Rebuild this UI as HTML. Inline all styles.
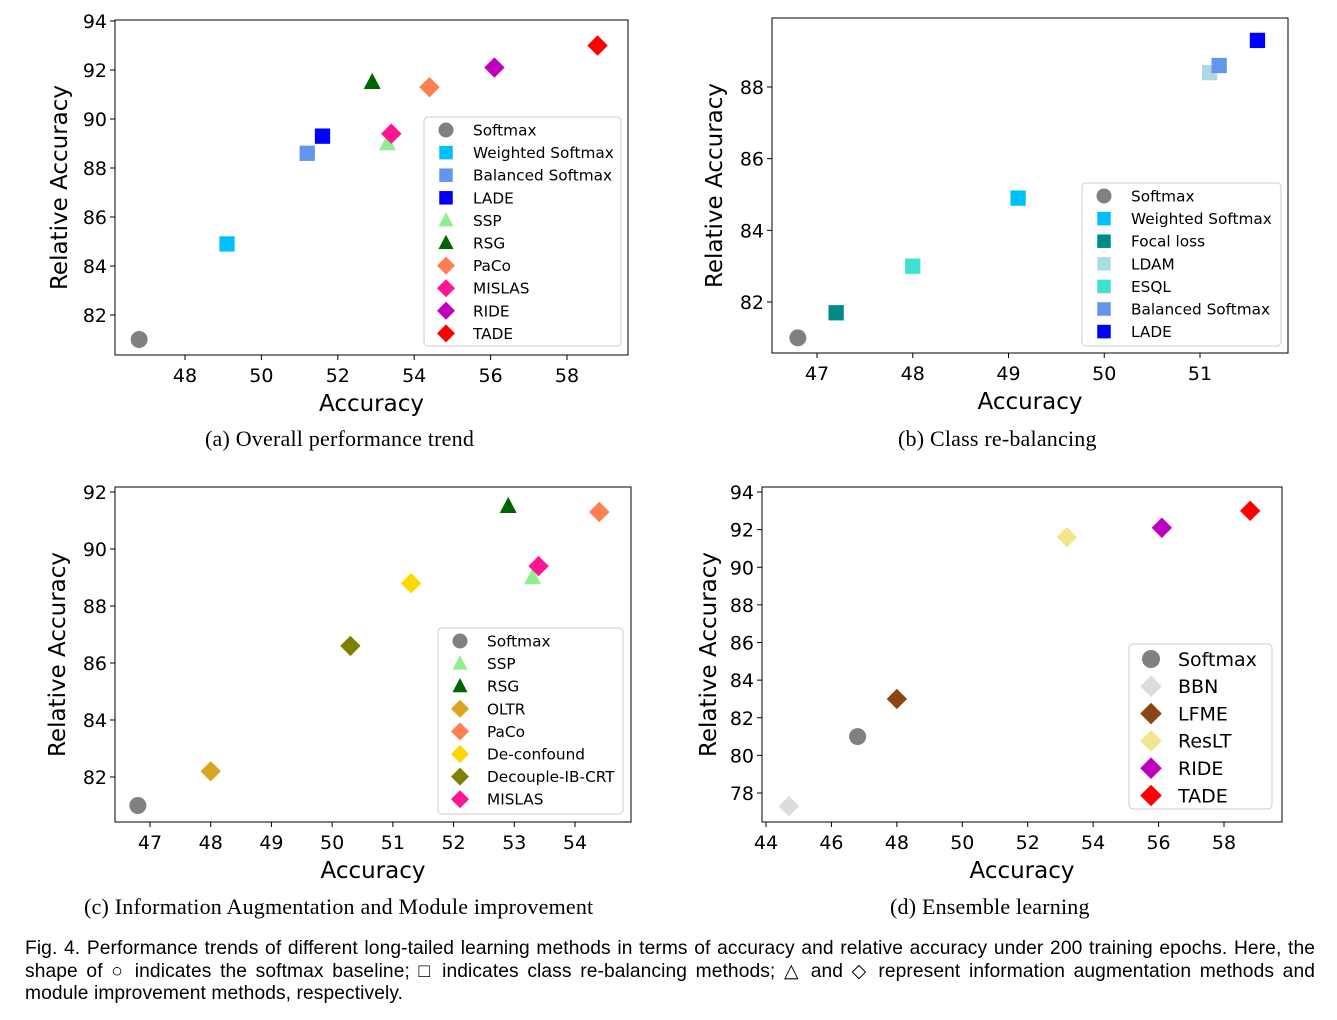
<!DOCTYPE html>
<html><head><meta charset="utf-8">
<style>
body{margin:0;background:#fff;width:1337px;height:1020px;overflow:hidden;position:relative}
svg{position:absolute;left:0;top:0}
.cap{position:absolute;font-family:"Liberation Serif",serif;font-size:22px;color:#000;white-space:nowrap;letter-spacing:0.2px}
.fig{position:absolute;left:25px;top:938px;width:1290px;font-family:"Liberation Sans",sans-serif;font-size:19.2px;line-height:22.5px;color:#000;letter-spacing:0.1px;text-align:justify}
</style></head><body>
<svg id="chart" width="1337" height="1020" xmlns="http://www.w3.org/2000/svg"></svg>
<div class="cap" style="left:205px;top:426px">(a) Overall performance trend</div>
<div class="cap" style="left:898px;top:426px">(b) Class re-balancing</div>
<div class="cap" style="left:84px;top:894px">(c) Information Augmentation and Module improvement</div>
<div class="cap" style="left:890px;top:894px">(d) Ensemble learning</div>
<div class="fig">Fig. 4. Performance trends of different long-tailed learning methods in terms of accuracy and relative accuracy under 200 training epochs. Here, the shape of ○ indicates the softmax baseline; □ indicates class re-balancing methods; △ and ◇ represent information augmentation methods and module&nbsp;improvement methods, respectively.</div>
<script>
// Panel (a)
const aNames=["Softmax","Weighted Softmax","Balanced Softmax","LADE","SSP","RSG","PaCo","MISLAS","RIDE","TADE"];
const aAcc=[46.8,49.1,51.2,51.6,53.3,52.9,54.4,53.4,56.1,58.8];
const aRel=[81.0,84.9,88.6,89.3,89.0,91.5,91.3,89.4,92.1,93.0];
const aXTicks=[48,50,52,54,56,58];
const aYTicks=[82,84,86,88,90,92,94];
// Panel (b)
const bNames=["Softmax","Weighted Softmax","Focal loss","LDAM","ESQL","Balanced Softmax","LADE"];
const bAcc=[46.8,49.1,47.2,51.1,48.0,51.2,51.6];
const bRel=[81.0,84.9,81.7,88.4,83.0,88.6,89.3];
const bXTicks=[47,48,49,50,51];
const bYTicks=[82,84,86,88];
// Panel (c)
const cNames=["Softmax","SSP","RSG","OLTR","PaCo","De-confound","Decouple-IB-CRT","MISLAS"];
const cAcc=[46.8,53.3,52.9,48.0,54.4,51.3,50.3,53.4];
const cRel=[81.0,89.0,91.5,82.2,91.3,88.8,86.6,89.4];
const cXTicks=[47,48,49,50,51,52,53,54];
const cYTicks=[82,84,86,88,90,92];
// Panel (d)
const dNames=["Softmax","BBN","LFME","ResLT","RIDE","TADE"];
const dAcc=[46.8,44.7,48.0,53.2,56.1,58.8];
const dRel=[81.0,77.3,83.0,91.6,92.1,93.0];
const dXTicks=[44,46,48,50,52,54,56,58];
const dYTicks=[78,80,82,84,86,88,90,92,94];

const STY={"Softmax":["o","#808080"],"Weighted Softmax":["s","#00bfff"],"Balanced Softmax":["s","#6495ed"],"LADE":["s","#0000ff"],
"SSP":["^","#90ee90"],"RSG":["^","#006400"],"PaCo":["d","#ff7f50"],"MISLAS":["d","#ff1493"],"RIDE":["d","#c000c0"],"TADE":["d","#ff0000"],
"Focal loss":["s","#008b8b"],"LDAM":["s","#add8e6"],"ESQL":["s","#40e0d0"],"OLTR":["d","#daa520"],"De-confound":["d","#ffd700"],
"Decouple-IB-CRT":["d","#808000"],"BBN":["d","#dcdcdc"],"LFME":["d","#8b4513"],"ResLT":["d","#f0e68c"]};

const svg=document.getElementById('chart');
const NS="http://www.w3.org/2000/svg";
function mk(tag,attrs,parent){const e=document.createElementNS(NS,tag);for(const k in attrs)e.setAttribute(k,attrs[k]);parent.appendChild(e);return e;}
function marker(g,shape,color,x,y,s){
  let e;
  if(shape==="o")e=mk('circle',{cx:x,cy:y,r:s*0.5,fill:color},g);
  else if(shape==="s")e=mk('rect',{x:x-s*0.45,y:y-s*0.45,width:s*0.9,height:s*0.9,fill:color},g);
  else if(shape==="^")e=mk('polygon',{points:`${x},${y-s*0.55} ${x+s*0.5},${y+s*0.4} ${x-s*0.5},${y+s*0.4}`,fill:color},g);
  else e=mk('polygon',{points:`${x},${y-s*0.6} ${x+s*0.6},${y} ${x},${y+s*0.6} ${x-s*0.6},${y}`,fill:color},g);
  return e;
}
function plot(c){
  const g=mk('g',{},svg);
  
  
  const sx=v=>c.px0+(v-c.x0)*(c.px1-c.px0)/(c.x1-c.x0);
  const sy=v=>c.py0+(v-c.y0)*(c.py1-c.py0)/(c.y1-c.y0);
  const F='font-family:"DejaVu Sans",sans-serif;';
  c.xt.forEach(t=>{const X=sx(t);
    mk('line',{x1:X,x2:X,y1:c.B,y2:c.B+5,stroke:'#000','stroke-width':1},g);
    const tx=mk('text',{x:X,y:c.B+27,'text-anchor':'middle',style:F+'font-size:19px'},g);tx.textContent=t;
    
    });
  c.yt.forEach(t=>{const Y=sy(t);
    mk('line',{x1:c.L-5,x2:c.L,y1:Y,y2:Y,stroke:'#000','stroke-width':1},g);
    const tx=mk('text',{x:c.L-8,y:Y+7,'text-anchor':'end',style:F+'font-size:19px'},g);tx.textContent=t;
    
    });
  const xl=mk('text',{x:(c.L+c.R)/2,y:c.B+56,'text-anchor':'middle',style:F+'font-size:23px'},g);xl.textContent='Accuracy';
  
  
  const yx=c.ylx, yy=(c.T+c.B)/2;
  const yl=mk('text',{x:yx,y:yy,'text-anchor':'middle',transform:`rotate(-90 ${yx} ${yy})`,style:F+'font-size:23px'},g);yl.textContent='Relative Accuracy';
  
  
  c.names.forEach((n,i)=>{const st=STY[n];
    const m=marker(g,st[0],st[1],sx(c.acc[i]),sy(c.rel[i]),17);
    
    });
  mk('rect',{x:c.L,y:c.T,width:c.R-c.L,height:c.B-c.T,fill:'none',stroke:'#000','stroke-width':1},g);
  const lg=mk('g',{},g);
  
  
  mk('rect',{x:c.lx,y:c.ly,width:c.lw,height:c.lh,rx:4,fill:'#fff','fill-opacity':0.85,stroke:'#ccc'},lg);
  c.names.forEach((n,i)=>{const st=STY[n];const Y=c.ly+c.l0+i*c.ls;
    marker(lg,st[0],st[1],c.lx+22,Y,c.lm);
    const t=mk('text',{x:c.lx+49,y:Y+c.lf*0.36,style:F+'font-size:'+c.lf+'px'},lg);t.textContent=n;
    
    });
}
plot({id:'a',names:aNames,acc:aAcc,rel:aRel,xt:aXTicks,yt:aYTicks,x0:48,x1:58,px0:185,px1:567,y0:82,y1:94,py0:315,py1:21,
  L:115,R:628,T:20,B:355,ylx:67,lx:424,ly:117,lw:197,lh:229,l0:13,ls:22.6,lf:15.3,lm:15});
plot({id:'b',names:bNames,acc:bAcc,rel:bRel,xt:bXTicks,yt:bYTicks,x0:47,x1:51,px0:817,px1:1200,y0:82,y1:88,py0:302,py1:87,
  L:772,R:1288,T:18,B:353,ylx:722,lx:1082,ly:183,lw:199,lh:163,l0:13,ls:22.6,lf:15.3,lm:15});
plot({id:'c',names:cNames,acc:cAcc,rel:cRel,xt:cXTicks,yt:cYTicks,x0:47,x1:54,px0:150,px1:575,y0:82,y1:92,py0:777,py1:492,
  L:115,R:631,T:487,B:822,ylx:65,lx:438,ly:628,lw:185,lh:186,l0:13,ls:22.6,lf:15.3,lm:15});
plot({id:'d',names:dNames,acc:dAcc,rel:dRel,xt:dXTicks,yt:dYTicks,x0:44,x1:58,px0:766,px1:1224,y0:78,y1:94,py0:793,py1:492,
  L:762,R:1282,T:487,B:822,ylx:716,lx:1129,ly:644,lw:143,lh:165,l0:15,ls:27.3,lf:19,lm:18});
</script>
</body></html>
